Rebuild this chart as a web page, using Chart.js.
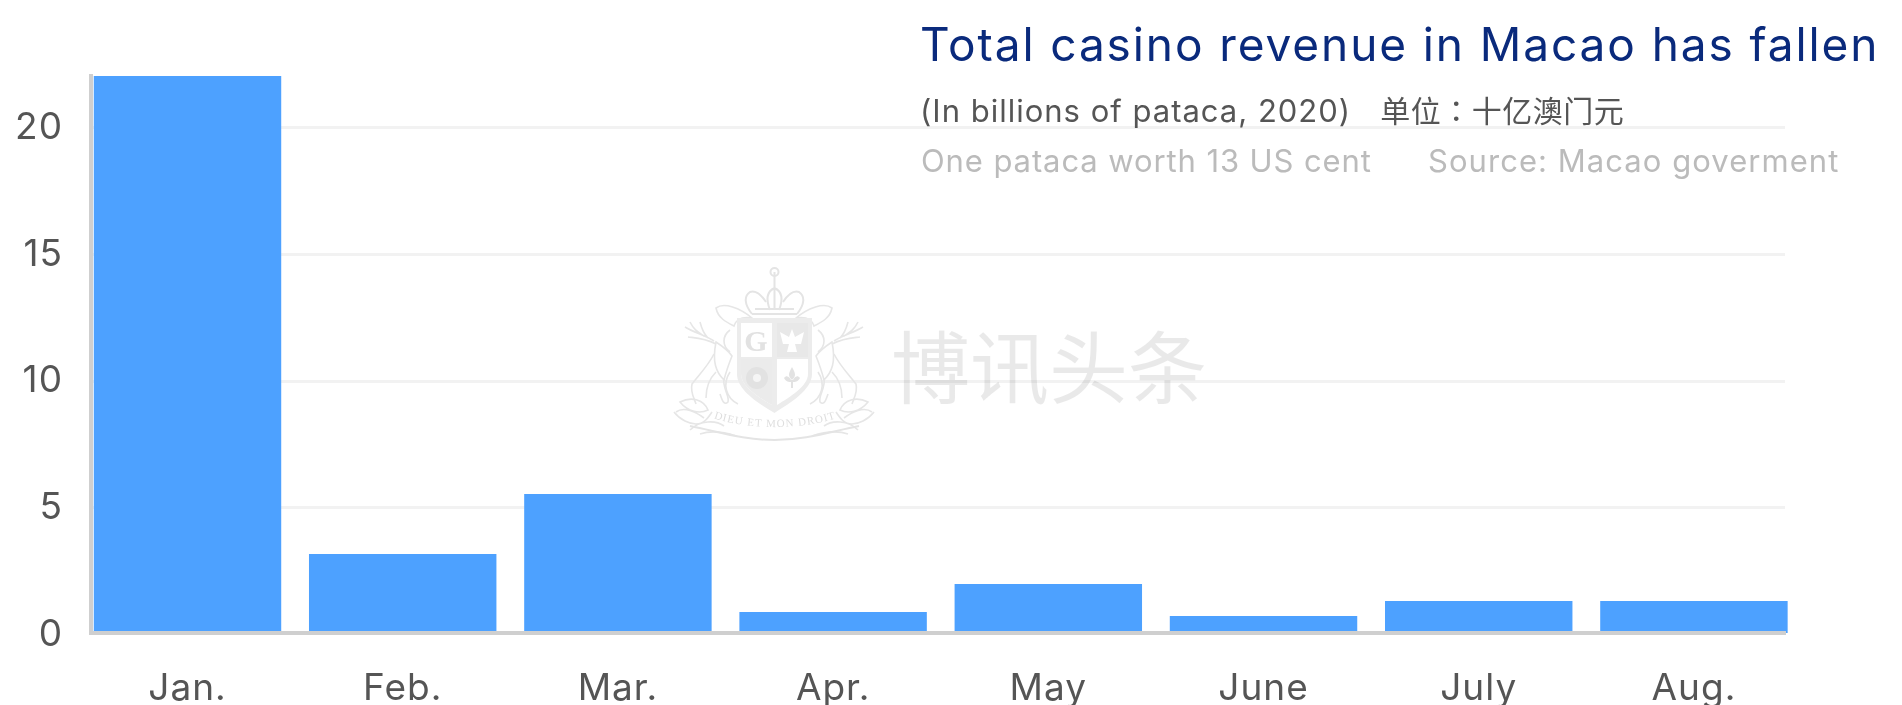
<!DOCTYPE html>
<html>
<head>
<meta charset="utf-8">
<style>
html,body{margin:0;padding:0;background:#fff;width:1902px;height:705px;overflow:hidden}
#wrap{position:relative;width:1902px;height:705px}
canvas{position:absolute;left:0;top:0}
.t{position:absolute;white-space:pre;font-family:Inter,"Noto Sans CJK TC",sans-serif}
#title{left:920px;top:12px;font-size:46px;line-height:64px;color:#0a2a7c;letter-spacing:1.9px}
#sub{left:920px;top:89px;font-size:31px;line-height:40px;color:#555;letter-spacing:1px}
#sub span{font-family:"Noto Sans CJK TC";font-size:30px;letter-spacing:.5px}
#note,#src{top:141px;font-size:31px;line-height:40px;color:#bbb}
#note{left:921px;letter-spacing:.9px}
#src{left:1428px;letter-spacing:1.05px}
#mark{position:absolute;left:0;top:0;pointer-events:none}
</style>
</head>
<body>
<div id="wrap">
<canvas id="c" width="1902" height="705"></canvas>
<svg id="mark" width="1902" height="705" xmlns="http://www.w3.org/2000/svg">
<defs>
<g id="half" fill="none" stroke="#e6e6e6" stroke-width="1.6">
<path d="M685 327C695 333 705 335 714 341M690 322C694 330 698 332 704 336M700 322C702 330 704 334 708 338M688 337C696 338 704 338 716 344"/>
<path d="M716 342C722 346 728 350 732 356C728 366 726 372 724 380C716 372 712 362 716 342Z"/>
<path d="M714 354C708 366 698 376 692 384C690 392 694 398 696 404M724 378C722 388 730 396 728 402C724 406 722 400 720 394M716 372C710 378 706 386 706 398"/>
<path d="M716 308C724 302 740 308 752 318C740 316 736 320 734 326C726 322 718 318 716 308Z"/>
<path d="M730 330C722 336 722 346 730 352M730 372C722 384 726 398 738 404"/>
<path d="M680 402C692 396 704 400 708 410C700 414 688 412 680 402ZM676 412C684 406 696 412 704 418"/>
<path d="M674 412C680 420 690 424 696 424C704 424 708 418 712 412M690 430C700 420 716 420 724 426M700 434C712 430 724 432 736 436"/>
</g>
</defs>
<use href="#half"/>
<use href="#half" transform="matrix(-1 0 0 1 1548 0)"/>
<g fill="#ececec">
<path d="M737 318H812V374C812 390 790 403 774.500 413C758 403 737 390 737 374Z"/>
</g>
<path d="M741 323H772V357H741ZM777 359H808V374C808 386 790 397 777 405ZM741 359H772V405C758 397 741 386 741 374Z" fill="#fff"/>
<path d="M777 323H808V357H777Z" fill="#e8e8e8"/>
<path d="M741 359H772V405C758 397 741 386 741 374Z" fill="#ebebeb"/>
<text x="756" y="351" font-family="Liberation Serif" font-size="30" font-weight="700" text-anchor="middle" fill="#e2e2e2">G</text>
<path d="M792 329L795 337L804 332L801 344L795 344L797 352H787L789 344L783 344L780 332L789 337Z" fill="#fff"/>
<circle cx="757" cy="378" r="11" fill="#e2e2e2"/>
<circle cx="757" cy="378" r="4" fill="#f5f5f5"/>
<path d="M792 367C788 374 788 376 792 380C796 376 796 374 792 367ZM784 378C787 374 790 378 791 380H793C794 378 797 374 800 378C798 382 795 382 793 382V388H791V382C789 382 786 382 784 378Z" fill="#e2e2e2"/>
<g fill="none" stroke="#e4e4e4" stroke-width="2">
<path d="M752 314C744 304 744 296 750 292C756 290 762 296 766 302M797 314C805 304 805 296 799 292C793 290 787 296 783 302"/>
<path d="M752 314H797M755 309H794"/>
<path d="M770 310C766 300 766 292 774.500 288C783 292 783 300 779 310M774.500 272V310"/>
<circle cx="774.500" cy="272" r="4"/>
<path d="M690 426C720 432 744 440 774.500 440C805 440 829 432 859 426"/>
</g>
<path id="arc" d="M700 412C735 432 815 432 850 412" fill="none"/>
<text font-family="Liberation Serif" font-size="11" fill="#dedede" letter-spacing="1"><textPath href="#arc" startOffset="50%" text-anchor="middle">DIEU ET MON DROIT</textPath></text>
<text x="891" y="398" font-family="Noto Sans CJK SC" font-size="79" fill="#000" fill-opacity="0.085">博讯头条</text>
</svg>
<div class="t" id="title">Total casino revenue in Macao has fallen</div>
<div class="t" id="sub">(In billions of pataca, 2020)   <span>单位：十亿澳门元</span></div>
<div class="t" id="note">One pataca worth 13 US cent</div>
<div class="t" id="src">Source: Macao goverment</div>
</div>
<script src="https://cdn.jsdelivr.net/npm/chart.js@4/dist/chart.umd.min.js"></script>
<script>
const months = ["Jan.","Feb.","Mar.","Apr.","May","June","July","Aug."];
const revenue = [22.05,3.18,5.55,0.89,1.99,0.73,1.32,1.32];
const yTicks = [0,5,10,15,20];
const barColor = "#4da1ff";
const axisColor = "#cfcfcf";
const gridColor = "#f2f2f2";
const textColor = "#555555";
const tickFont = {family:"Inter", size:37};

new Chart(document.getElementById("c"), {
  type:"bar",
  data:{
    labels:months,
    datasets:[{
      data:revenue.map((v,i)=>({x:i,y:v})),
      backgroundColor:barColor,
      borderWidth:0,
      barPercentage:0.871,
      categoryPercentage:1,
      clip:false
    }]
  },
  options:{
    responsive:false,
    animation:false,
    parsing:false,
    layout:{padding:{top:76,right:117,bottom:0,left:0}},
    plugins:{legend:{display:false},tooltip:{enabled:false},title:{display:false}},
    scales:{
      x:{
        type:"linear",
        position:"bottom",
        min:-0.4484,
        max:7.4232,
        offset:false,
        afterFit(s){s.height=72;},
        afterBuildTicks(s){s.ticks=months.map((_,i)=>({value:i}));},
        grid:{display:false},
        border:{display:true,color:axisColor,width:4,z:1},
        ticks:{autoSkip:false,maxRotation:0,padding:26,color:textColor,font:tickFont,
          callback:(v)=>months[v]}
      },
      y:{
        min:0.06,
        max:22.05,
        afterFit(s){s.width=91;},
        afterBuildTicks(s){s.ticks=yTicks.map(v=>({value:v}));},
        grid:{color:ctx=>ctx.tick.value===0?"rgba(0,0,0,0)":gridColor,lineWidth:3,drawTicks:false},
        border:{display:true,color:axisColor,width:4,z:1},
        ticks:{padding:28,color:textColor,font:tickFont,autoSkip:false,callback:(v)=>String(v)}
      }
    }
  },
  plugins:[{
    id:"spacing",
    beforeDraw(chart){chart.ctx.letterSpacing="1px";}
  }]
});
</script>
</body>
</html>
